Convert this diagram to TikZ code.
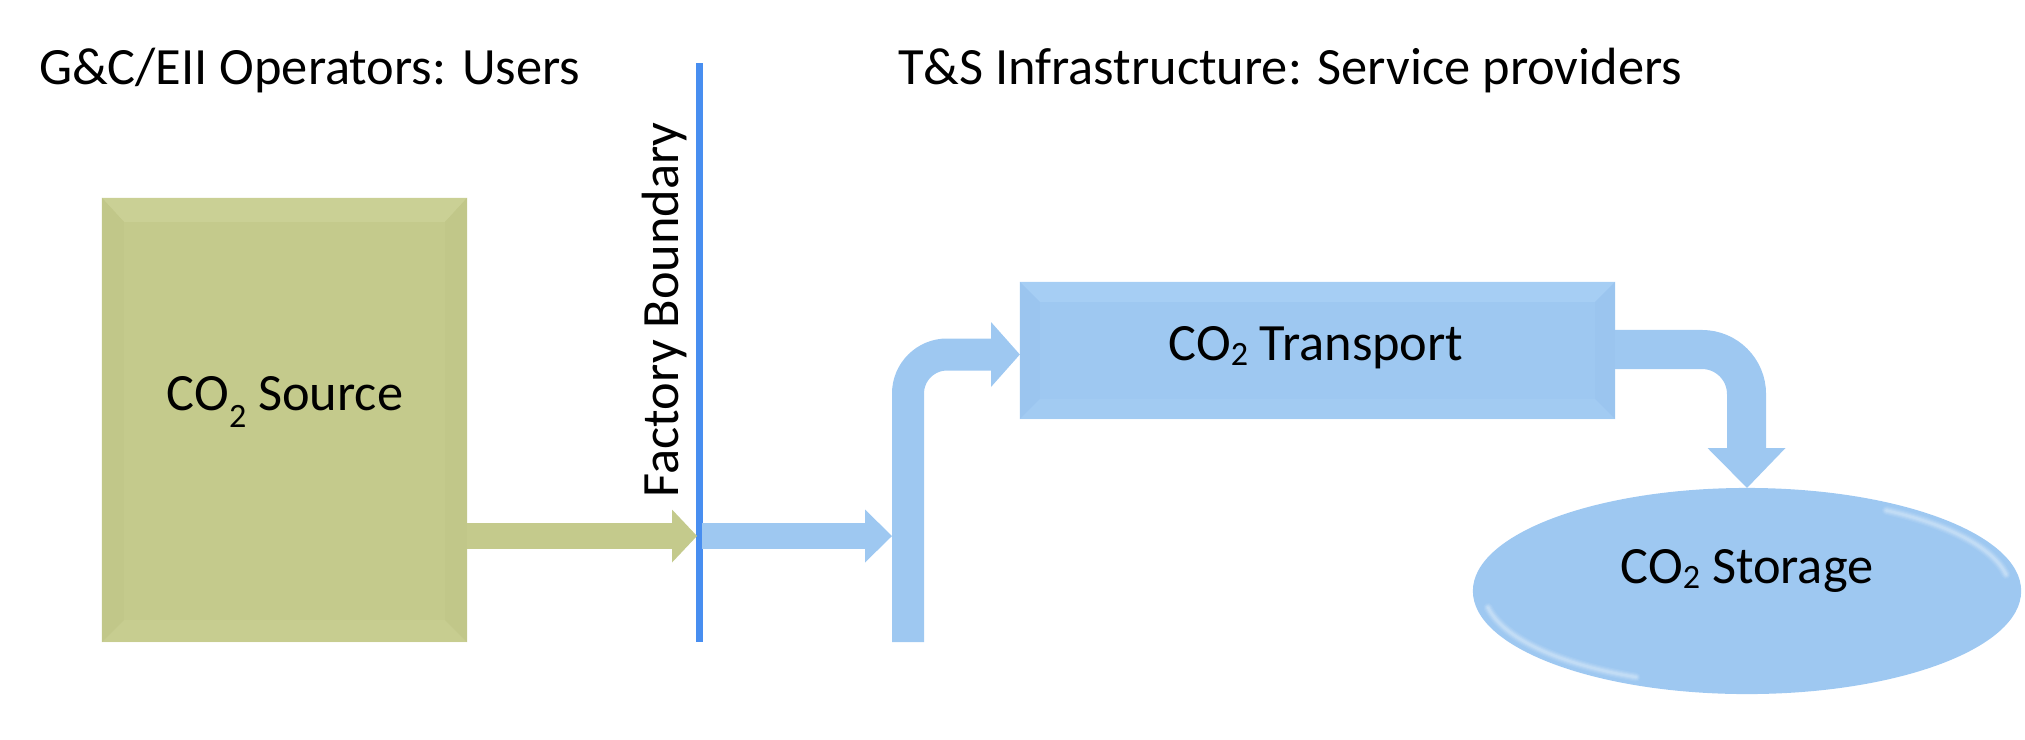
\documentclass[tikz,border=0pt]{standalone}
\usepackage{fontspec}
\setmainfont{Carlito}
\usetikzlibrary{shapes.geometric,calc}
\definecolor{srcgreen}{RGB}{196,202,140}
\definecolor{srcgreenlt}{RGB}{202,208,149}
\definecolor{srcgreendk}{RGB}{193,199,137}
\definecolor{pipeblue}{RGB}{158,200,241}
\definecolor{pipebluelt}{RGB}{166,206,244}
\definecolor{pipebluedk}{RGB}{155,197,239}
\definecolor{lineblue}{RGB}{72,142,240}
\newcommand{\mysubA}{\raisebox{-0.33em}{\fontsize{9.7}{10}\selectfont 2}}
\newcommand{\mysubB}{\raisebox{-0.1em}{\fontsize{9.7}{10}\selectfont 2}}
\begin{document}
\begin{tikzpicture}[x=0.01cm,y=-0.01cm,
  lbl/.style={inner sep=0pt,outer sep=0pt,font=\fontsize{14.9}{18}\selectfont,text=black},
  srcbox/.style={rectangle,inner sep=0pt,outer sep=0pt,fill=srcgreen,minimum width=3.65cm,minimum height=4.44cm},
  trbox/.style={rectangle,inner sep=0pt,outer sep=0pt,fill=pipeblue,minimum width=5.95cm,minimum height=1.37cm},
  stell/.style={ellipse,inner sep=0pt,outer sep=0pt,fill=pipeblue,minimum width=5.48cm,minimum height=2.06cm},
  greenpipe/.style={draw=srcgreen,line width=0.26cm},
  bluepipe/.style={draw=pipeblue},
  gloss/.style={draw=white,line cap=round}]
\useasboundingbox (0,0) rectangle (2025,739);

% titles
\node[lbl,anchor=base west] (t1) at (39,84) {G\&C/EII Operators: Users};
\node[lbl,anchor=base west] (t2) at (898,84) {T\&S Infrastructure: Service providers};

% CO2 source box with subtle bevel
\node[srcbox] (src) at (284.5,420) {};
\fill[srcgreenlt] (src.north west) -- (src.north east) -- ($(src.north east)+(-22,24)$) -- ($(src.north west)+(22,24)$) -- cycle;
\fill[srcgreendk] (src.north west) -- ($(src.north west)+(22,24)$) -- ($(src.south west)+(22,-22)$) -- (src.south west) -- cycle;
\fill[srcgreendk] (src.north east) -- ($(src.north east)+(-22,24)$) -- ($(src.south east)+(-22,-22)$) -- (src.south east) -- cycle;
\fill[srcgreenlt,opacity=0.5] (src.south west) -- (src.south east) -- ($(src.south east)+(-22,-22)$) -- ($(src.south west)+(22,-22)$) -- cycle;
\node[lbl,anchor=base] (srcl) at (285,410) {CO\mysubA\ Source};

% factory boundary
\coordinate (fbtop) at (699.5,63);
\coordinate (fbbot) at (699.5,642);
\draw[lineblue,line width=0.07cm] (fbtop) -- (fbbot);
\node[lbl,anchor=base west,rotate=90] (fb) at (678,497) {Factory Boundary};

% green arrow from source to boundary
\coordinate (g0) at (src.east |- 0,536);
\coordinate (g1) at (672,536);
\coordinate (g2) at (697,536);
\draw[greenpipe] (g0) -- (g1);
\fill[srcgreen] ($(g1)+(0,-26.5)$) -- (g2) -- ($(g1)+(0,26.5)$) -- cycle;

% blue arrow from boundary to riser
\coordinate (b0) at (702,536);
\coordinate (b1) at (865,536);
\coordinate (b2) at (892,536);
\draw[bluepipe,line width=0.26cm] (b0) -- (b1);
\fill[pipeblue] ($(b1)+(0,-26.5)$) -- (b2) -- ($(b1)+(0,26.5)$) -- cycle;

% transport box with subtle bevel
\node[trbox] (tr) at (1317.5,350.5) {};
\fill[pipebluelt] (tr.north west) -- (tr.north east) -- ($(tr.north east)+(-20,20)$) -- ($(tr.north west)+(20,20)$) -- cycle;
\fill[pipebluedk] (tr.north west) -- ($(tr.north west)+(20,20)$) -- ($(tr.south west)+(20,-20)$) -- (tr.south west) -- cycle;
\fill[pipebluedk] (tr.north east) -- ($(tr.north east)+(-20,20)$) -- ($(tr.south east)+(-20,-20)$) -- (tr.south east) -- cycle;
\fill[pipebluelt,opacity=0.5] (tr.south west) -- (tr.south east) -- ($(tr.south east)+(-20,-20)$) -- ($(tr.south west)+(20,-20)$) -- cycle;
\node[lbl,anchor=base] (trl) at (1316,360) {CO\mysubB\ Transport};

% riser pipe into transport
\coordinate (r0) at (908,642);
\coordinate (r1) at (908,354.5);
\coordinate (r2) at (991,354.5);
\coordinate (r3) at (tr.west |- 0,354.5);
\draw[bluepipe,line width=0.32cm,rounded corners=0.39cm] (r0) -- (r1) -- (r2);
\fill[pipeblue] ($(r2)+(0,-32.5)$) -- (r3) -- ($(r2)+(0,32.5)$) -- cycle;

% storage ellipse with soft gloss
\node[stell] (st) at (1747,591) {};
\foreach \w/\o in {0.09/0.08,0.065/0.1,0.045/0.12,0.025/0.15}{
  \draw[gloss,line width=\w cm,opacity=\o] plot[domain=10:58,samples=40] ({1747+263*cos(\x)},{591-95*sin(\x)});
  \draw[gloss,line width=\w cm,opacity=\o] plot[domain=190:245,samples=40] ({1747+263*cos(\x)},{591-95*sin(\x)});
}
\node[lbl,anchor=base] (stl) at (1747,583) {CO\mysubB\ Storage};

% pipe from transport down to storage
\coordinate (d0) at (tr.east |- 0,349.5);
\coordinate (d1) at (1746.5,349.5);
\coordinate (d2) at (1746.5,448);
\coordinate (d3) at (st.north);
\draw[bluepipe,line width=0.39cm,rounded corners=0.445cm] (d0) -- (d1) -- (d2);
\fill[pipeblue] ($(d2)+(-39,0)$) -- (d3) -- ($(d2)+(39,0)$) -- cycle;
\end{tikzpicture}
\end{document}
